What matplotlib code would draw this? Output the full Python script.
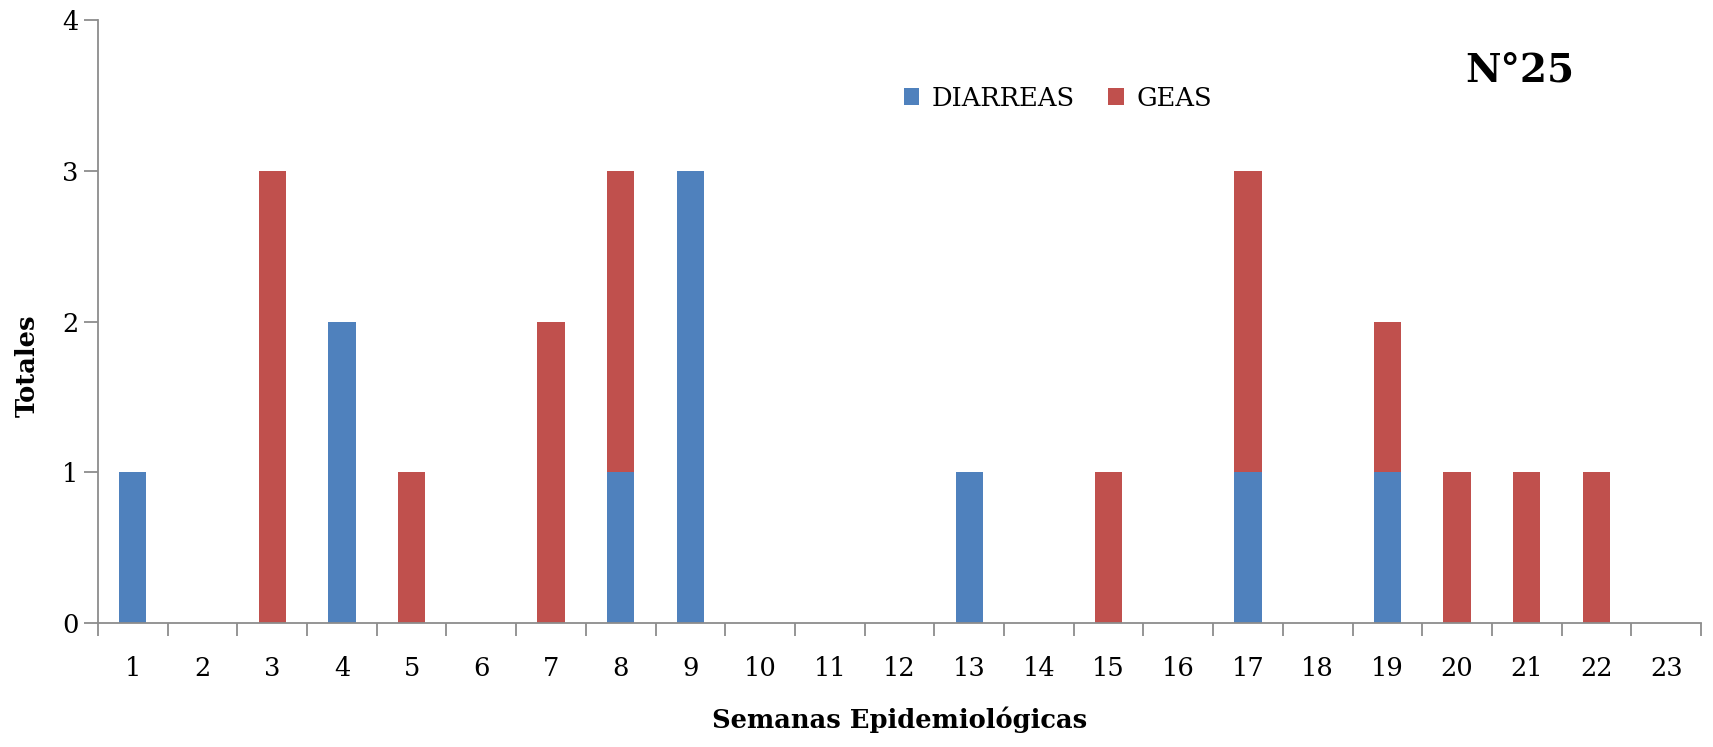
import numpy as np
import matplotlib.pyplot as plt
from matplotlib.ticker import FixedLocator

plt.rcParams['font.family'] = ['DejaVu Serif']

# semanas epidemiológicas 1..23
semanas = list(range(1, 24))
diarreas = [1, 0, 0, 2, 0, 0, 0, 1, 3, 0, 0, 0, 1, 0, 0, 0, 1, 0, 1, 0, 0, 0, 0]
geas     = [0, 0, 3, 0, 1, 0, 2, 2, 0, 0, 0, 0, 0, 0, 1, 0, 2, 0, 1, 1, 1, 1, 0]

azul = '#4F81BD'
rojo = '#C0504D'
gris = '#8C8C8C'

fig = plt.figure(figsize=(17.13, 7.47), dpi=100)
ax = fig.add_axes([98/1713, 1-623/747, (1701-98)/1713, (623-20)/747])

x = np.array(semanas)
ancho = 0.39
ax.bar(x, diarreas, ancho, color=azul, label='DIARREAS')
ax.bar(x, geas, ancho, bottom=diarreas, color=rojo, label='GEAS')

ax.set_xlim(0.5, 23.5)
ax.set_ylim(0, 4)
ax.set_yticks([0, 1, 2, 3, 4])
ax.set_xticks(x)
ax.set_xticklabels([str(s) for s in semanas])
ax.xaxis.set_minor_locator(FixedLocator(np.arange(0.5, 24, 1)))
ax.tick_params(axis='x', which='major', length=0, pad=24, labelsize=18.5)
ax.tick_params(axis='x', which='minor', length=9, width=1.3, color=gris, direction='out')
ax.tick_params(axis='y', length=10, width=1.3, color=gris, direction='out', pad=4, labelsize=18.5)

for s in ['top', 'right']:
    ax.spines[s].set_visible(False)
for s in ['left', 'bottom']:
    ax.spines[s].set_color(gris)
    ax.spines[s].set_linewidth(1.3)

ax.set_xlabel('Semanas Epidemiológicas', fontsize=18.5, fontweight='bold', labelpad=18)
fig.text(27/1713, 1-366/747, 'Totales', rotation=90, fontsize=18.5, fontweight='bold',
         ha='center', va='center')

fig.text(1520/1713, 1-71/747, 'N°25', fontsize=28, fontweight='bold', ha='center', va='center')

ax.legend(loc='center', bbox_to_anchor=(1058/1713, 1-98/747), bbox_transform=fig.transFigure,
          ncol=2, frameon=False, fontsize=18.5, handlelength=0.6, handleheight=0.6,
          columnspacing=1.3, handletextpad=0.5)

fig.savefig('out.png', dpi=100)
